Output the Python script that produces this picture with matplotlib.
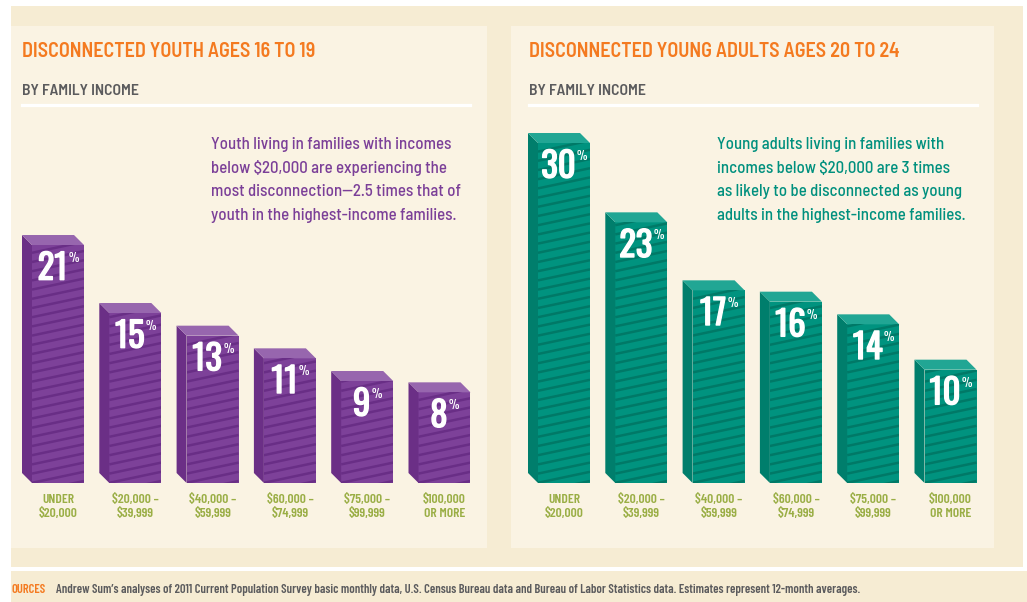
import matplotlib
matplotlib.use("Agg")
import matplotlib.pyplot as plt
from matplotlib import font_manager as fm
from matplotlib import patheffects as pe
from matplotlib.patches import Rectangle, Polygon
from matplotlib.collections import LineCollection
import numpy as np

# ---------------- data ----------------
categories = ["UNDER\n$20,000", "$20,000 –\n$39,999", "$40,000 –\n$59,999",
              "$60,000 –\n$74,999", "$75,000 –\n$99,999", "$100,000\nOR MORE"]
youth_16_19 = [21, 15, 13, 11, 9, 8]
young_adults_20_24 = [30, 23, 17, 16, 14, 10]
titles = ["DISCONNECTED YOUTH AGES 16 TO 19",
          "DISCONNECTED YOUNG ADULTS AGES 20 TO 24"]
subtitle = "BY FAMILY INCOME"
note_youth = ["Youth living in families with incomes",
              "below $20,000 are experiencing the",
              "most disconnection—2.5 times that of",
              "youth in the highest-income families."]
note_adults = ["Young adults living in families with",
               "incomes below $20,000 are 3 times",
               "as likely to be disconnected as young",
               "adults in the highest-income families."]
source_label = "OURCES"
source_text = ("Andrew Sum’s analyses of 2011 Current Population Survey basic monthly data, "
               "U.S. Census Bureau data and Bureau of Labor Statistics data. "
               "Estimates represent 12-month averages.")

# ---------------- fonts ----------------
def _wnum(f):
    w = f.weight
    if isinstance(w, (int, float)):
        return int(w)
    return fm.weight_dict.get(str(w), 400)

def find_font(families, weight):
    for fam in families:
        ents = [f for f in fm.fontManager.ttflist
                if f.name == fam and f.style == "normal"]
        if ents:
            best = min(ents, key=lambda f: abs(_wnum(f) - weight))
            return fm.FontProperties(fname=best.fname)
    return fm.FontProperties(family="DejaVu Sans", weight="bold")

FP_NUM = find_font(["Oswald", "Antonio", "Fjalla One", "Pathway Gothic One",
                    "League Gothic", "Barlow Condensed"], 600)
FP_TITLE = find_font(["Barlow Semi Condensed", "Barlow Condensed", "Asap Condensed"], 600)
FP_NOTE = find_font(["Barlow Semi Condensed", "Asap Condensed"], 500)
FP_LAB = find_font(["Barlow Condensed", "Asap Condensed"], 600)

# ---------------- figure ----------------
W, H = 1027, 602
fig = plt.figure(figsize=(W / 100, H / 100), dpi=100, facecolor="white")

def fx(x):
    return x / W

def fy(y):
    return 1 - y / H

def bg_rect(x0, y0, x1, y1, color):
    fig.add_artist(Rectangle((fx(x0), fy(y1)), fx(x1) - fx(x0), fy(y0) - fy(y1),
                             transform=fig.transFigure, facecolor=color,
                             edgecolor="none", zorder=-10))

OUTER = "#F6ECD3"
PANEL = "#FAF3E3"
bg_rect(11, 6, 1023, 567, OUTER)
bg_rect(11, 26, 487, 548, PANEL)
bg_rect(511, 26, 994, 548, PANEL)
bg_rect(11, 571, 1027, 602, OUTER)

renderer = fig.canvas.get_renderer()

def ftext(x, y, s, color, fp, size, **kw):
    t = fig.text(fx(x), fy(y), s, color=color, fontproperties=fp, **kw)
    t.set_fontsize(size)
    return t

def fit_size(fp, samples, targets, base=20.0):
    ratios = []
    for s, tw in zip(samples, targets):
        t = fig.text(0, 0, s, fontproperties=fp)
        t.set_fontsize(base)
        w = t.get_window_extent(renderer).width
        t.remove()
        ratios.append(tw / w)
    return base * float(np.mean(ratios))

ORANGE = "#F47A20"
GRAY = "#5B5B5D"
GREEN = "#9AAE45"
PURPLE_TXT = "#7B3F98"
TEAL_TXT = "#00907E"

# titles
fs_title = fit_size(FP_TITLE, titles, [295, 370])
ftext(22, 57, titles[0], ORANGE, FP_TITLE, fs_title, va="baseline")
ftext(529, 57, titles[1], ORANGE, FP_TITLE, fs_title, va="baseline")
fs_sub = fit_size(FP_TITLE, [subtitle], [117])
ftext(22, 95, subtitle, GRAY, FP_TITLE, fs_sub, va="baseline")
ftext(529, 95, subtitle, GRAY, FP_TITLE, fs_sub, va="baseline")

# white rules
for x0, x1 in [(22, 470), (529, 977)]:
    fig.add_artist(plt.Line2D([fx(x0), fx(x1)], [fy(104.6), fy(104.6)],
                              transform=fig.transFigure, color="white", lw=2.3))

# notes
base0 = 149
step = 23.7
fs_note = fit_size(FP_NOTE, note_youth + note_adults,
                   [237, 239, 252, 253, 227, 226, 245, 246])
for i, s in enumerate(note_youth):
    ftext(211, base0 + i * step, s, PURPLE_TXT, FP_NOTE, fs_note, va="baseline")
for i, s in enumerate(note_adults):
    ftext(717, base0 + i * step, s, TEAL_TXT, FP_NOTE, fs_note, va="baseline")

# source line
fs_src = fit_size(FP_LAB, [source_text], [798])
ftext(56, 592.7, source_text, GRAY, FP_LAB, fs_src, va="baseline")
ftext(11, 592.7, source_label, ORANGE, FP_LAB, fs_src, va="baseline")

# ---------------- bars ----------------
PX_PER_UNIT_X = 77.3
PX_PER_PCT = 11.333
Y_BOTTOM_PX = 483
YMAX = 32
BAR_W = 52 / PX_PER_UNIT_X
DX = 10 / PX_PER_UNIT_X
DY = 10 / PX_PER_PCT

fs_num = fit_size(FP_NUM, ["21", "30"], [30, 34])
fs_pct = fit_size(FP_NUM, ["%"], [10.5])
fs_lab = fit_size(FP_LAB, ["$39,999", "$20,000 –"], [38, 46])
NUM_FX = [pe.withStroke(linewidth=1.0, foreground="white")]

styles = [
    dict(front="#7D4199", stripe="#692E86", side="#6B2F86", top="#9766AE"),
    dict(front="#00937F", stripe="#007967", side="#007E6C", top="#21A694"),
]

def make_axes(center0_px):
    left_px = center0_px - 0.5 * PX_PER_UNIT_X
    top_px = Y_BOTTOM_PX - YMAX * PX_PER_PCT
    ax = fig.add_axes([fx(left_px), fy(Y_BOTTOM_PX), 6 * PX_PER_UNIT_X / W,
                       (Y_BOTTOM_PX - top_px) / H])
    ax.set_xlim(-0.5, 5.5)
    ax.set_ylim(0, YMAX)
    ax.axis("off")
    ax.patch.set_alpha(0)
    return ax

def draw_panel(ax, values, st):
    x = np.arange(len(values))
    bars = ax.bar(x, values, width=BAR_W, color=st["front"], edgecolor="none", zorder=2)
    sp = 9.2 / PX_PER_PCT
    rise = 11 / PX_PER_PCT
    for rect, v, xi in zip(bars, values, x):
        xl = rect.get_x()
        xr = xl + rect.get_width()
        h = rect.get_height()
        # side face
        ax.add_patch(Polygon([(xl - DX, h + DY), (xl, h), (xl, 0), (xl - DX, DY)],
                             closed=True, facecolor=st["side"], edgecolor="none",
                             zorder=2, clip_on=False))
        # top face
        ax.add_patch(Polygon([(xl - DX, h + DY), (xr - DX, h + DY), (xr, h), (xl, h)],
                             closed=True, facecolor=st["top"], edgecolor="none",
                             zorder=2, clip_on=False))
        # stripes on the front face
        segs = []
        y = -rise + 2 / PX_PER_PCT
        while y < h:
            segs.append([(xl, y), (xr, y + rise)])
            y += sp
        lc = LineCollection(segs, colors=st["stripe"], linewidths=1.8, zorder=3)
        ax.add_collection(lc)
        lc.set_clip_path(rect)
        # value label
        num = ax.annotate(f"{v}", xy=(xi, h), xytext=(-4, -4.8),
                          textcoords="offset points", ha="center", va="top",
                          color="white", fontproperties=FP_NUM, zorder=5,
                          path_effects=NUM_FX)
        num.set_fontsize(fs_num)
        pct = ax.annotate("%", xy=(1, 1), xycoords=num, xytext=(1.0, -0.3),
                          textcoords="offset points", ha="left", va="top",
                          color="white", fontproperties=FP_NUM, zorder=5)
        pct.set_fontsize(fs_pct)
    # category labels
    for xi, lab in zip(x, categories):
        for k, s in enumerate(lab.split("\n")):
            t = ax.annotate(s, xy=(xi, 0), xytext=(0, -(19.7 + k * 14.3) * 0.72),
                            textcoords="offset points", ha="center", va="baseline",
                            color=GREEN, fontproperties=FP_LAB, annotation_clip=False)
            t.set_fontsize(fs_lab)

axL = make_axes(58)
draw_panel(axL, youth_16_19, styles[0])
axR = make_axes(564)
draw_panel(axR, young_adults_20_24, styles[1])

fig.savefig("out.png", dpi=100, facecolor="white")
